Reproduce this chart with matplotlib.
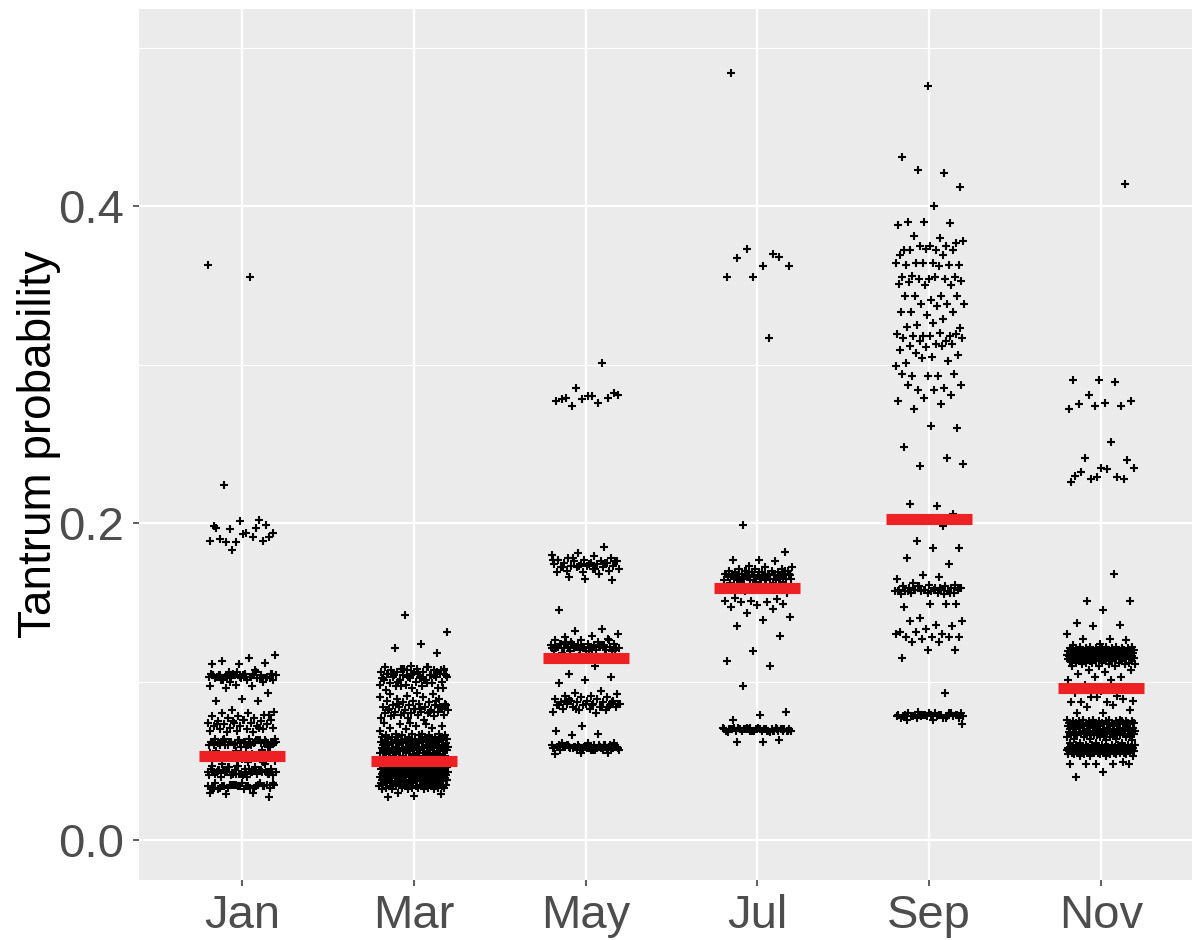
import numpy as np
import matplotlib
matplotlib.use('Agg')
import matplotlib.pyplot as plt
from matplotlib.ticker import MultipleLocator

plt.rcParams['font.family'] = ['Liberation Sans', 'DejaVu Sans']

# tantrum probability per draw (in thousandths)
months = ['Jan', 'Mar', 'May', 'Jul', 'Sep', 'Nov']

jan = [363, 355, 224,
       199, 201, 198, 197, 196, 194, 194, 190, 189, 188, 189, 191, 188, 191, 193, 197, 202, 183,
       117, 115, 113, 112, 111, 111,
       107, 106, 105, 105, 104, 104, 104, 103, 103, 103, 103, 102, 102, 102, 102, 101, 101, 101, 100, 106,
       105, 104, 103, 102, 104, 103, 102, 105, 104, 103, 101, 102, 103, 104, 106, 100, 105, 103, 104, 102,
       98, 97, 97, 96, 93, 89, 88, 88,
       82, 81, 80, 80, 79, 78, 78, 77, 77, 76, 76, 75, 75, 74, 74, 74, 73, 73, 72, 72,
       72, 71, 71, 70, 70, 70, 69, 69, 68, 68, 79, 76, 73, 71, 75,
       64, 64, 63, 63, 63, 62, 62, 62, 62, 61, 61, 61, 61, 60, 60, 60, 59, 59, 64, 63,
       62, 61, 60, 62, 61, 63, 62, 61, 60, 59, 62, 61, 63, 60, 62, 61, 64, 62, 61, 60,
       63, 62, 61, 59, 60,
       57, 56, 55, 54, 53, 52, 51, 56, 54, 52, 50,
       49, 48, 48, 47, 47, 46, 46, 45, 45, 44, 44, 44, 43, 43, 43, 43, 42, 42, 42, 41,
       41, 40, 40, 49, 47, 45, 44, 43, 42, 41, 43, 44, 42, 43, 45, 44, 43, 42, 43, 44,
       46, 43, 42, 44, 43, 42, 41, 43, 44, 42,
       36, 36, 35, 35, 35, 34, 34, 34, 34, 33, 33, 33, 33, 32, 32, 36, 35, 34, 33, 34,
       35, 34, 33, 34, 35, 36, 34, 33, 34, 35,
       30, 30, 29, 27]

mar = [142, 131, 124, 121, 118,
       110, 109, 109, 108, 108, 108, 107, 107, 107, 106, 106, 106, 105, 105, 105, 104, 104, 104, 103, 103,
       103, 102, 102, 101, 101, 100, 100, 99, 99, 98, 98, 97, 97, 96, 96, 95, 109, 108, 107, 106,
       105, 104, 103, 102, 101, 100, 107, 106, 105, 104, 108, 103, 102, 104, 106, 105, 101, 99, 97, 96,
       93, 92, 92, 91, 90, 90, 89, 89, 88, 88, 87, 87, 86, 86, 85, 85, 85, 84, 84, 84,
       83, 83, 83, 82, 82, 82, 81, 81, 81, 80, 80, 80, 79, 79, 79, 78, 78, 77, 77, 76,
       86, 84, 83, 82, 81, 80, 85, 83, 79, 88,
       74, 74, 73, 73, 72, 72, 71, 71, 70, 69,
       67, 67, 67, 67, 66, 66, 66, 66, 66, 65, 65, 65, 65, 65, 65, 64, 64, 64, 64, 64,
       64, 64, 63, 63, 63, 63, 63, 63, 63, 62, 62, 62, 62, 62, 62, 62, 62, 61, 61, 61,
       61, 61, 61, 61, 61, 60, 60, 60, 60, 60, 60, 60, 60, 59, 59, 59, 59, 59, 59, 59,
       59, 58, 58, 58, 58, 58, 58, 58, 58, 57, 57, 57, 57, 57, 57, 57, 57, 56, 56, 56,
       56, 56, 56, 56, 55, 55, 55, 55, 55, 55, 54, 54, 54, 54, 54, 53, 53, 53, 53, 53,
       52, 52, 52, 52, 52, 52, 52, 52, 51, 51, 51, 51, 51, 51, 51, 51, 51, 50, 50, 50,
       50, 50, 50, 50, 50, 50, 49, 49, 49, 49, 49, 49, 49, 49, 49, 49, 48, 48, 48, 48,
       48, 48, 48, 48, 48, 48, 47, 47, 47, 47, 47, 47, 47, 47, 47, 47, 47, 46, 46, 46,
       46, 46, 46, 46, 46, 46, 46, 46, 45, 45, 45, 45, 45, 45, 45, 45, 45, 45, 45, 44,
       44, 44, 44, 44, 44, 44, 44, 44, 44, 44, 43, 43, 43, 43, 43, 43, 43, 43, 43, 43,
       43, 42, 42, 42, 42, 42, 42, 42, 42, 42, 42, 42, 41, 41, 41, 41, 41, 41, 41, 41,
       41, 41, 41, 40, 40, 40, 40, 40, 40, 40, 40, 40, 40, 40, 39, 39, 39, 39, 39, 39,
       39, 39, 39, 39, 38, 38, 38, 38, 38, 38, 38, 38, 38, 38, 37, 37, 37, 37, 37, 37,
       37, 37, 37, 37, 36, 36, 36, 36, 36, 36, 36, 36, 36, 35, 35, 35, 35, 35, 35, 35,
       35, 35, 34, 34, 34, 34, 34, 34, 34, 34, 33, 33, 33, 33, 33, 33, 33, 32, 32, 32,
       32, 32, 30, 29, 28, 27]

may = [301,
       285, 281, 280, 279, 279, 278, 277, 276, 274, 282, 280, 278,
       185, 181, 180, 179, 178, 178, 177, 177, 176, 176, 176, 175, 175, 175, 174, 174, 174, 173, 173, 173,
       172, 172, 172, 171, 171, 170, 170, 169, 169, 168, 178, 176, 174, 172, 175, 173, 177, 171, 166, 164,
       165, 145,
       133, 132, 130, 129, 128, 127, 126, 126, 125, 125, 124, 124, 124, 123, 123, 123, 123, 122, 122, 122,
       122, 122, 121, 121, 121, 121, 120, 120, 120, 120, 119, 119, 119, 124, 123, 122, 121, 120, 125, 126,
       122, 121, 123, 124, 120, 119, 118, 117, 116, 121,
       110, 105, 103, 101, 99,
       94, 93, 92, 91, 91, 90, 90, 89, 89, 88, 88, 88, 87, 87, 87, 86, 86, 86, 85, 85,
       85, 84, 84, 84, 83, 83, 82, 82, 81, 80, 89, 87, 86, 85, 84, 83, 86, 85, 88, 84,
       72, 69, 67, 66,
       61, 61, 61, 60, 60, 60, 60, 60, 60, 59, 59, 59, 59, 59, 59, 59, 58, 58, 58, 58,
       58, 58, 58, 57, 57, 57, 57, 57, 60, 59, 58, 59, 60, 58, 59, 58, 59, 60, 59, 58,
       57, 59, 58, 59, 60, 58, 59, 58, 57, 59,
       55, 55, 54]

jul = [484, 370, 373, 362, 362, 367, 368, 355, 355, 317,
       199, 182, 177, 177, 176,
       173, 172, 172, 171, 171, 171, 170, 170, 170, 170, 169, 169, 169, 169, 168, 168, 168, 168, 167, 167,
       167, 167, 167, 166, 166, 166, 166, 166, 165, 165, 165, 165, 165, 164, 164, 164, 164, 163, 163, 163,
       162, 162, 170, 168, 167, 166, 165, 169, 168, 167, 166, 170, 169, 168, 167, 166, 165, 164, 168, 167,
       160, 159, 158, 157, 156, 161,
       153, 152, 151, 151, 150, 150, 149, 148, 147, 146,
       143, 141, 139, 135, 129, 119, 113, 110, 97,
       81, 79, 76,
       71, 71, 71, 70, 70, 70, 70, 70, 70, 70, 69, 69, 69, 69, 69, 69, 69, 69, 70, 71,
       70, 69, 70, 69, 70, 71, 70, 69, 68, 68, 70, 69, 70, 71, 70, 69, 70, 69, 70, 69,
       70, 70, 69, 71, 70,
       62, 62, 63]

sep = [476, 431, 421, 423, 412, 400, 390, 389, 390, 388, 380, 381,
       377, 375, 372, 375, 375, 378, 372, 372, 372, 373, 369, 369,
       364, 363, 364, 363, 363, 364, 364, 362,
       356, 355, 354, 355, 354, 354, 353, 355, 352, 350, 350, 351,
       343, 343, 343, 341, 343, 338, 338, 338, 337, 333, 333, 331, 333, 329,
       325, 323, 326, 324, 318, 318, 319, 320, 318, 319, 318, 317, 315, 315, 317, 313,
       312, 313, 311, 309, 312, 307, 306, 305, 301, 302, 304, 299,
       293, 293, 294, 293, 294, 285, 284, 287, 284, 287, 281, 279, 277, 275, 272, 260, 261,
       248, 241, 236, 237, 211, 212, 206, 203, 201, 198, 189, 184, 184, 178, 174, 167, 165, 166,
       162, 161, 161, 160, 160, 160, 159, 159, 159, 159, 158, 158, 158, 158, 158, 157, 157, 157, 157, 157,
       156, 156, 156, 156, 155, 155, 160, 159, 158, 157, 156, 158, 157, 159, 158,
       149, 149, 147, 149, 140, 138, 136, 138, 135, 133,
       131, 130, 131, 128, 128, 128, 128, 127, 130, 125, 125, 120, 120, 115, 93,
       81, 80, 80, 80, 80, 79, 79, 79, 79, 79, 79, 79, 78, 78, 78, 78, 78, 78, 78, 77,
       77, 77, 77, 76, 76, 80, 79, 78, 79, 78, 79, 80, 78, 77, 79, 73]

nov = [414, 290, 290, 289, 281, 277, 276, 275, 274, 274, 272, 251,
       241, 240, 235, 230, 229, 228, 235, 234, 232, 228, 229, 226,
       168, 151, 151, 145, 137, 136, 135, 130, 127, 127, 126, 124, 123,
       122, 122, 122, 122, 122, 121, 121, 121, 121, 121, 121, 121, 121, 120, 120, 120, 120, 120, 120,
       120, 120, 120, 120, 119, 119, 119, 119, 119, 119, 119, 119, 119, 119, 119, 118, 118, 118, 118, 118,
       118, 118, 118, 118, 118, 118, 117, 117, 117, 117, 117, 117, 117, 117, 117, 117, 117, 117, 116, 116,
       116, 116, 116, 116, 116, 116, 116, 116, 116, 116, 115, 115, 115, 115, 115, 115, 115, 115, 115, 115,
       115, 114, 114, 114, 114, 114, 114, 114, 114, 114, 114, 113, 113, 113, 113, 113, 113, 113, 113, 112,
       112, 112, 112, 112, 112, 111, 111, 111, 111, 110, 110, 110,
       107, 107, 106, 105, 103, 103, 101, 101, 98, 96, 94,
       93, 91, 90, 88, 87, 87, 89, 90, 87, 85, 84, 82, 80, 80,
       76, 76, 76, 76, 76, 75, 75, 75, 75, 75, 75, 75, 75, 75, 74, 74, 74, 74, 74, 74,
       74, 74, 74, 74, 74, 74, 73, 73, 73, 73, 73, 73, 73, 73, 73, 73, 72, 72, 72, 72,
       72, 72, 72, 71, 71, 71, 71, 71, 71, 70, 70, 70, 70, 70, 70, 69, 69, 69, 69, 69,
       69, 69, 68, 68, 68, 68, 68, 68, 68, 68, 68, 67, 67, 67, 67, 67, 67, 67, 67, 67,
       67, 67, 66, 66, 66, 66, 66, 66, 66, 66, 66, 65, 65, 65, 65, 65, 64, 64, 64, 63,
       63,
       61, 61, 61, 61, 60, 60, 60, 60, 60, 60, 60, 60, 59, 59, 59, 59, 59, 59, 59, 59,
       59, 59, 59, 59, 58, 58, 58, 58, 58, 58, 58, 58, 58, 58, 58, 58, 58, 58, 58, 57,
       57, 57, 57, 57, 57, 57, 57, 57, 57, 57, 57, 57, 57, 57, 57, 56, 56, 56, 56, 56,
       56, 56, 56, 56, 56, 56, 56, 56, 56, 55, 55, 55, 55, 55, 55, 55, 55, 55, 55, 54,
       54, 54, 54, 54, 54, 54, 53, 53, 53, 53,
       49, 48, 48, 48, 48, 48, 43, 40]

# monthly means (red bars)
means = [0.053, 0.0498, 0.115, 0.1588, 0.2023, 0.0957]

series = [jan, mar, may, jul, sep, nov]

fig = plt.figure(figsize=(11.92, 9.4), dpi=100)
ax = fig.add_axes([0.1166, 0.0638, 0.8834, 0.9266])
ax.set_facecolor('#EBEBEB')

golden = 0.6180339887
for i, vals in enumerate(series):
    pos = i + 1
    y = np.array(vals) / 1000.0
    k = np.arange(len(y))
    # deterministic jitter, like position_jitter(width = 0.2)
    jit = 0.2 * (2 * ((k * golden + 0.37 * i) % 1.0) - 1)
    ax.plot(pos + jit, y, linestyle='none', marker='+', ms=5.5, mew=1.5,
            color='black', zorder=2)
    ax.hlines(means[i], pos - 0.25, pos + 0.25, color='#ED2024', lw=8, zorder=3)

ax.set_xlim(0.4, 6.53)
ax.set_ylim(-0.0252, 0.5243)
ax.set_xticks(range(1, 7))
ax.set_xticklabels(months)
ax.yaxis.set_minor_locator(MultipleLocator(0.1))
ax.set_yticks([0.0, 0.2, 0.4])
ax.set_yticklabels(['0.0', '0.2', '0.4'])

ax.grid(which='major', color='white', lw=1.6, zorder=0)
ax.grid(which='minor', axis='y', color='white', lw=0.8, zorder=0)
ax.set_axisbelow(True)
for s in ax.spines.values():
    s.set_visible(False)

ax.tick_params(axis='both', which='major', labelsize=34, labelcolor='#4D4D4D',
               color='#333333', length=4, width=1.1)
ax.tick_params(axis='y', which='major', pad=7)
ax.tick_params(axis='x', which='major', pad=6)
ax.tick_params(which='minor', length=0)

ax.set_ylabel('Tantrum probability', fontsize=33, color='black')
ax.yaxis.set_label_coords(-0.074, 0.5)

fig.savefig('out.png', dpi=100)
